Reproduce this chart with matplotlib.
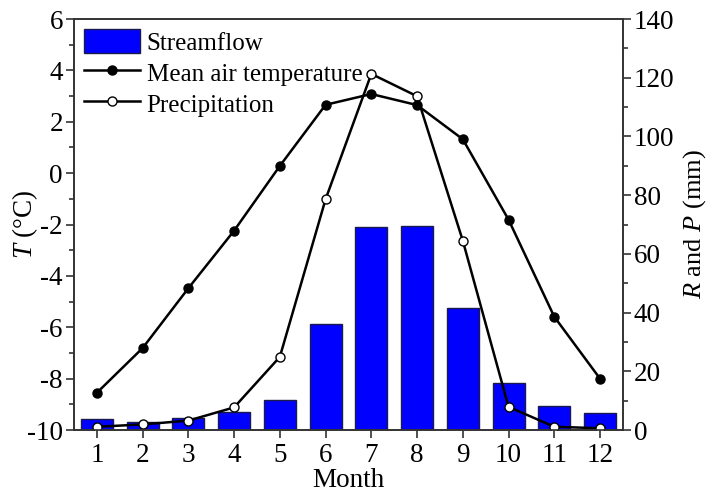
import numpy as np
import matplotlib
matplotlib.use("Agg")
import matplotlib.pyplot as plt
from matplotlib.patches import Patch
from matplotlib.lines import Line2D

plt.rcParams['font.family'] = ['Liberation Serif', 'DejaVu Serif']
plt.rcParams['mathtext.fontset'] = 'custom'
plt.rcParams['mathtext.it'] = 'Liberation Serif:italic'
plt.rcParams['mathtext.rm'] = 'Liberation Serif'
plt.rcParams['axes.unicode_minus'] = False

months = list(range(1, 13))
month_labels = [str(m) for m in months]
temperature = [-8.55, -6.81, -4.48, -2.24, 0.28, 2.66, 3.08, 2.65, 1.32, -1.81, -5.59, -8.0]
precipitation = [1.1, 1.9, 3.2, 7.7, 24.9, 78.6, 121.3, 113.7, 64.5, 7.9, 1.1, 0.6]
streamflow = [3.9, 2.6, 4.0, 6.0, 10.1, 36.1, 69.2, 69.6, 41.7, 15.9, 8.3, 5.7]

fig = plt.figure(figsize=(7.07, 4.95), dpi=100)
ax = fig.add_axes([0.1047, 0.1313, 0.7763, 0.8303])
ax2 = ax.twinx()

ax2.bar(months, streamflow, width=0.7, color='#0000FF', edgecolor='#1a1a4d',
        linewidth=1.0, zorder=1)
ax2.plot(months, precipitation, color='black', lw=1.8, marker='o', ms=6.5,
         mfc='white', mec='black', mew=1.0, zorder=3)
ax.plot(months, temperature, color='black', lw=1.8, marker='o', ms=6.5,
        mfc='black', mec='black', zorder=3)

ax.set_zorder(ax2.get_zorder() + 1)
ax.patch.set_visible(False)

ax.set_xlim(0.5, 12.5)
ax.set_ylim(-10, 6)
ax2.set_ylim(0, 140)
ax.set_xticks(months)
ax.set_xticklabels(month_labels)
ax.set_yticks(np.arange(-10, 7, 2))
ax.set_yticks(np.arange(-9, 6, 2), minor=True)
ax2.set_yticks(np.arange(0, 141, 20))
ax2.set_yticks(np.arange(10, 140, 20), minor=True)

for a in (ax, ax2):
    a.tick_params(axis='both', which='major', direction='out', length=6,
                  width=1.2, labelsize=19.5, color='#333333', pad=2)
    a.tick_params(axis='y', which='minor', direction='out', length=3.5,
                  width=1.2, color='#333333')
    for s in a.spines.values():
        s.set_color('#333333')
        s.set_linewidth(1.2)
ax.tick_params(axis='x', pad=3)

ax.set_xlabel('Month', fontsize=19.5)
ax.set_ylabel(r'$T$ (°C)', fontsize=19.5)
ax2.set_ylabel(r'$R$ and $P$ (mm)', fontsize=19)
ax.xaxis.set_label_coords(0.5, -0.093)
ax.yaxis.set_label_coords(-0.062, 0.5)
ax2.yaxis.set_label_coords(1.106, 0.5)

handles = [
    Patch(facecolor='#0000FF', edgecolor='#1a1a4d', linewidth=1.0),
    Line2D([], [], color='black', lw=1.8, marker='o', ms=6.5, mfc='black', mec='black'),
    Line2D([], [], color='black', lw=1.8, marker='o', ms=6.5, mfc='white', mec='black'),
]
labels = ['Streamflow', 'Mean air temperature', 'Precipitation']
ax.legend(handles, labels, loc='upper left', frameon=False, fontsize=18,
          handlelength=2.25, handleheight=1.1, handletextpad=0.25,
          labelspacing=0.22, borderaxespad=0.2, borderpad=0.2)

fig.savefig('out.png', dpi=100)
